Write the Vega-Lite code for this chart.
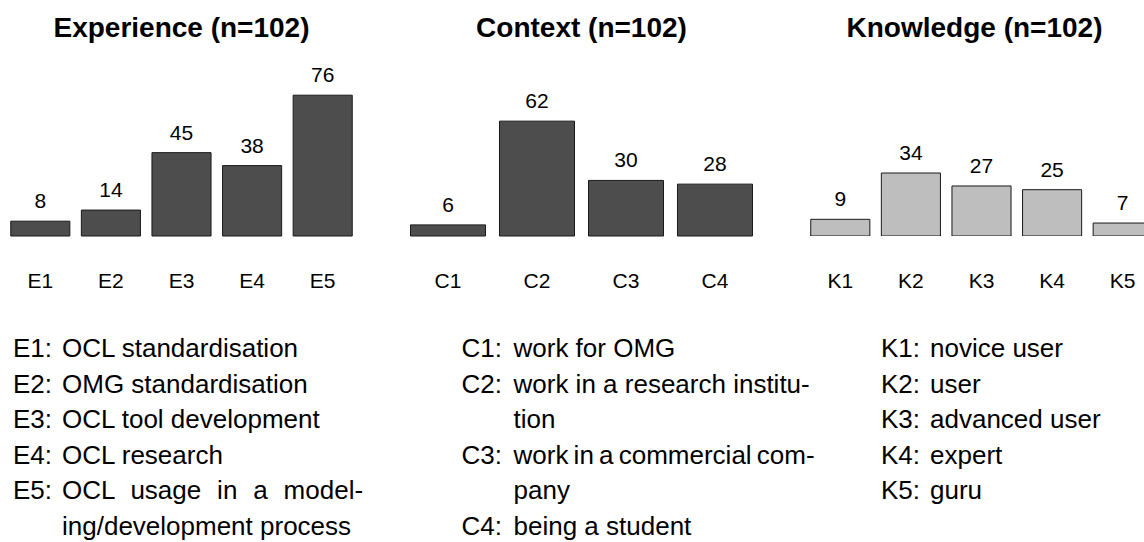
{
  "$schema": "https://vega.github.io/schema/vega-lite/v6.json",
  "padding": {"left": 5, "top": 15, "right": 0, "bottom": 0},
  "background": "white",
  "config": {
    "view": {"stroke": null},
    "font": "Liberation Sans",
    "text": {"font": "Liberation Sans", "color": "black"},
    "title": {"font": "Liberation Sans", "fontSize": 28, "fontWeight": "bold", "color": "black", "baseline": "alphabetic", "offset": 17, "anchor": "middle"},
    "axis": {"labelFont": "Liberation Sans", "labelColor": "black"}
  },
  "datasets": {
    "bars": [
      {"group": "Experience", "code": "E1", "n": 8},
      {"group": "Experience", "code": "E2", "n": 14},
      {"group": "Experience", "code": "E3", "n": 45},
      {"group": "Experience", "code": "E4", "n": 38},
      {"group": "Experience", "code": "E5", "n": 76},
      {"group": "Context", "code": "C1", "n": 6},
      {"group": "Context", "code": "C2", "n": 62},
      {"group": "Context", "code": "C3", "n": 30},
      {"group": "Context", "code": "C4", "n": 28},
      {"group": "Knowledge", "code": "K1", "n": 9},
      {"group": "Knowledge", "code": "K2", "n": 34},
      {"group": "Knowledge", "code": "K3", "n": 27},
      {"group": "Knowledge", "code": "K4", "n": 25},
      {"group": "Knowledge", "code": "K5", "n": 7}
    ],
    "legend": [
      {"group": "Experience", "line": 1, "part": "code", "text": "E1:"},
      {"group": "Experience", "line": 1, "part": "desc", "text": "OCL standardisation"},
      {"group": "Experience", "line": 2, "part": "code", "text": "E2:"},
      {"group": "Experience", "line": 2, "part": "desc", "text": "OMG standardisation"},
      {"group": "Experience", "line": 3, "part": "code", "text": "E3:"},
      {"group": "Experience", "line": 3, "part": "desc", "text": "OCL tool development"},
      {"group": "Experience", "line": 4, "part": "code", "text": "E4:"},
      {"group": "Experience", "line": 4, "part": "desc", "text": "OCL research"},
      {"group": "Experience", "line": 5, "part": "code", "text": "E5:"},
      {"group": "Experience", "line": 5, "part": "desc", "text": "OCL \u2004usage \u2004in \u2004a \u2004model-"},
      {"group": "Experience", "line": 6, "part": "desc", "text": "ing/development process"},
      {"group": "Context", "line": 1, "part": "code", "text": "C1:"},
      {"group": "Context", "line": 1, "part": "desc", "text": "work for OMG"},
      {"group": "Context", "line": 2, "part": "code", "text": "C2:"},
      {"group": "Context", "line": 2, "part": "desc", "text": "work in a research institu-"},
      {"group": "Context", "line": 3, "part": "desc", "text": "tion"},
      {"group": "Context", "line": 4, "part": "code", "text": "C3:"},
      {"group": "Context", "line": 4, "part": "desc", "text": "work\u2009in\u2009a\u2009commercial\u2009com-"},
      {"group": "Context", "line": 5, "part": "desc", "text": "pany"},
      {"group": "Context", "line": 6, "part": "code", "text": "C4:"},
      {"group": "Context", "line": 6, "part": "desc", "text": "being a student"},
      {"group": "Knowledge", "line": 1, "part": "code", "text": "K1:"},
      {"group": "Knowledge", "line": 1, "part": "desc", "text": "novice user"},
      {"group": "Knowledge", "line": 2, "part": "code", "text": "K2:"},
      {"group": "Knowledge", "line": 2, "part": "desc", "text": "user"},
      {"group": "Knowledge", "line": 3, "part": "code", "text": "K3:"},
      {"group": "Knowledge", "line": 3, "part": "desc", "text": "advanced user"},
      {"group": "Knowledge", "line": 4, "part": "code", "text": "K4:"},
      {"group": "Knowledge", "line": 4, "part": "desc", "text": "expert"},
      {"group": "Knowledge", "line": 5, "part": "code", "text": "K5:"},
      {"group": "Knowledge", "line": 5, "part": "desc", "text": "guru"}
    ]
  },
  "columns": 3,
  "spacing": {"row": 121, "column": 45.5},
  "bounds": "flush",
  "concat": [
    {
      "data": {"name": "bars"},
      "transform": [{"filter": "datum.group === 'Experience'"}],
      "title": {"text": "Experience (n=102)"},
      "width": 353,
      "height": 176,
      "encoding": {
        "x": {"field": "code", "type": "nominal", "sort": null,
          "scale": {"paddingInner": 0.163, "paddingOuter": 0.0815},
          "axis": {"title": null, "domain": false, "ticks": false, "labelAngle": 0, "labelFontSize": 21, "labelBaseline": "alphabetic", "labelPadding": 51}},
        "y": {"field": "n", "type": "quantitative", "scale": {"domain": [0, 95]}, "axis": null}
      },
      "layer": [
        {"mark": {"type": "bar", "fill": "#4d4d4d", "stroke": "#1a1a1a", "strokeWidth": 1}},
        {"mark": {"type": "text", "baseline": "alphabetic", "dy": -13, "fontSize": 21}, "encoding": {"text": {"field": "n"}}}
      ]
    },
    {
      "data": {"name": "bars"},
      "transform": [{"filter": "datum.group === 'Context'"}],
      "title": {"text": "Context (n=102)"},
      "width": 356,
      "height": 176,
      "encoding": {
        "x": {"field": "code", "type": "nominal", "sort": null,
          "scale": {"paddingInner": 0.157, "paddingOuter": 0.0787},
          "axis": {"title": null, "domain": false, "ticks": false, "labelAngle": 0, "labelFontSize": 21, "labelBaseline": "alphabetic", "labelPadding": 51}},
        "y": {"field": "n", "type": "quantitative", "scale": {"domain": [0, 95]}, "axis": null}
      },
      "layer": [
        {"mark": {"type": "bar", "fill": "#4d4d4d", "stroke": "#1a1a1a", "strokeWidth": 1}},
        {"mark": {"type": "text", "baseline": "alphabetic", "dy": -13, "fontSize": 21}, "encoding": {"text": {"field": "n"}}}
      ]
    },
    {
      "data": {"name": "bars"},
      "transform": [{"filter": "datum.group === 'Knowledge'"}],
      "title": {"text": "Knowledge (n=102)"},
      "width": 339,
      "height": 176,
      "encoding": {
        "x": {"field": "code", "type": "nominal", "sort": null,
          "scale": {"paddingInner": 0.163, "paddingOuter": 0.0815, "range": [0, 353]},
          "axis": {"title": null, "domain": false, "ticks": false, "labelAngle": 0, "labelFontSize": 21, "labelBaseline": "alphabetic", "labelPadding": 51}},
        "y": {"field": "n", "type": "quantitative", "scale": {"domain": [0, 95]}, "axis": null}
      },
      "layer": [
        {"mark": {"type": "bar", "fill": "#bebebe", "stroke": "#1a1a1a", "strokeWidth": 1, "clip": true}},
        {"mark": {"type": "text", "baseline": "alphabetic", "dy": -13, "fontSize": 21}, "encoding": {"text": {"field": "n"}}}
      ]
    },
    {
      "data": {"name": "legend"},
      "transform": [{"filter": "datum.group === 'Experience'"}],
      "width": 353,
      "height": 178,
      "mark": {"type": "text", "align": "left", "baseline": "alphabetic", "fontSize": 26},
      "encoding": {
        "x": {"field": "part", "type": "nominal", "scale": {"type": "point", "padding": 0, "domain": ["code", "desc"], "range": [8, 57]}, "axis": null},
        "y": {"field": "line", "type": "ordinal", "scale": {"type": "point", "padding": 0, "domain": [1, 2, 3, 4, 5, 6], "range": [0, 178]}, "axis": null},
        "text": {"field": "text"}
      }
    },
    {
      "data": {"name": "legend"},
      "transform": [{"filter": "datum.group === 'Context'"}],
      "width": 356,
      "height": 178,
      "mark": {"type": "text", "align": "left", "baseline": "alphabetic", "fontSize": 26},
      "encoding": {
        "x": {"field": "part", "type": "nominal", "scale": {"type": "point", "padding": 0, "domain": ["code", "desc"], "range": [58, 110]}, "axis": null},
        "y": {"field": "line", "type": "ordinal", "scale": {"type": "point", "padding": 0, "domain": [1, 2, 3, 4, 5, 6], "range": [0, 178]}, "axis": null},
        "text": {"field": "text"}
      }
    },
    {
      "data": {"name": "legend"},
      "transform": [{"filter": "datum.group === 'Knowledge'"}],
      "width": 339,
      "height": 178,
      "mark": {"type": "text", "align": "left", "baseline": "alphabetic", "fontSize": 26},
      "encoding": {
        "x": {"field": "part", "type": "nominal", "scale": {"type": "point", "padding": 0, "domain": ["code", "desc"], "range": [76, 125]}, "axis": null},
        "y": {"field": "line", "type": "ordinal", "scale": {"type": "point", "padding": 0, "domain": [1, 2, 3, 4, 5, 6], "range": [0, 178]}, "axis": null},
        "text": {"field": "text"}
      }
    }
  ]
}
